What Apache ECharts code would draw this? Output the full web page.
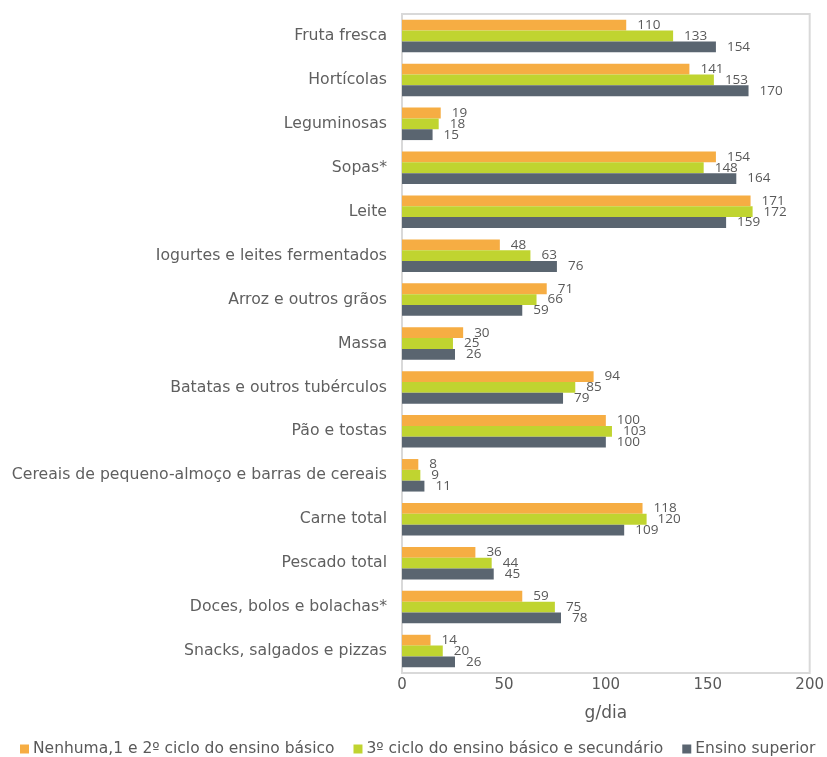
<!DOCTYPE html>
<html><head><meta charset="utf-8">
<script src="https://cdn.jsdelivr.net/npm/echarts@6/dist/echarts.min.js"></script>
<style>html,body{margin:0;padding:0;background:#fff}#c{width:827px;height:757px}</style>
</head><body><div id="c"></div>
<script>
const categories = ["Fruta fresca","Hortícolas","Leguminosas","Sopas*","Leite","Iogurtes e leites fermentados","Arroz e outros grãos","Massa","Batatas e outros tubérculos","Pão e tostas","Cereais de pequeno-almoço e barras de cereais","Carne total","Pescado total","Doces, bolos e bolachas*","Snacks, salgados e pizzas"];
const seriesNames = ["Nenhuma,1 e 2º ciclo do ensino básico","3º ciclo do ensino básico e secundário","Ensino superior"];
const basico12 = [110,141,19,154,171,48,71,30,94,100,8,118,36,59,14];
const basico3sec = [133,153,18,148,172,63,66,25,85,103,9,120,44,75,20];
const superior = [154,170,15,164,159,76,59,26,79,100,11,109,45,78,26];
const xTicks = [0,50,100,150,200];
const colors = ["#F6AD43","#C0D430","#5A6570"];
const font = "DejaVu Sans";
const chart = echarts.init(document.getElementById('c'));
const mk = (name, data, i) => ({
  name, type: 'bar', data,
  itemStyle: {color: colors[i]},
  barCategoryGap: '26%', barGap: '0%',
  label: {show: true, position: 'right', distance: 11, color: '#595959', fontSize: 13.5, fontFamily: 'Open Sans'}
});
chart.setOption({
  animation: false,
  textStyle: {fontFamily: font},
  grid: {left: 402, right: 16, top: 14, bottom: 84, show: true, borderColor: '#D9D9D9', borderWidth: 2, containLabel: false},
  xAxis: {type: 'value', min: 0, max: 200, interval: 50,
    axisLabel: {color: '#595959', fontSize: 15, fontFamily: font, margin: 5},
    splitLine: {show: false}, axisLine: {show: false}, axisTick: {show: false},
    name: 'g/dia', nameLocation: 'middle', nameGap: 32, nameTextStyle: {color: '#595959', fontSize: 17, fontFamily: font}},
  yAxis: {type: 'category', data: categories, inverse: true,
    axisLabel: {color: '#5f5f5f', fontSize: 15.7, fontFamily: font, margin: 15},
    axisLine: {show: true, lineStyle: {color: '#D9D9D9', width: 2}}, axisTick: {show: false}},
  legend: {bottom: 0, left: 20, padding: 0, itemWidth: 9, itemHeight: 9, itemGap: 19, itemStyle: {borderWidth: 0}, icon: 'rect',
    textStyle: {color: '#595959', fontSize: 15.5, fontFamily: font, padding: [0,0,0,-1]},
    data: seriesNames},
  series: [mk(seriesNames[0], basico12, 0), mk(seriesNames[1], basico3sec, 1), mk(seriesNames[2], superior, 2)]
});
</script></body></html>
